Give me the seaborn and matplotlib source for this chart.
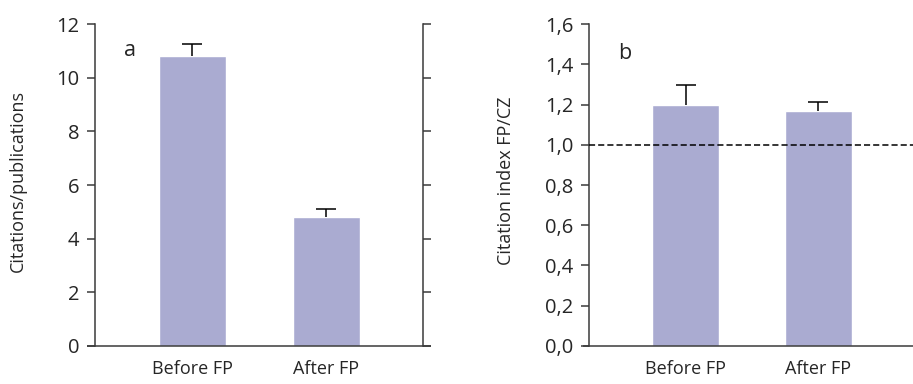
import matplotlib
matplotlib.use("Agg")
import matplotlib.pyplot as plt
import seaborn as sns
from matplotlib.ticker import FuncFormatter

# Data
categories = ["Before FP", "After FP"]
cites_per_pub = [10.8, 4.8]
cites_per_pub_err = [0.45, 0.3]
citation_index = [1.2, 1.17]
citation_index_err = [0.1, 0.045]
left_yticks = [0, 2, 4, 6, 8, 10, 12]
right_yticks = [0.0, 0.2, 0.4, 0.6, 0.8, 1.0, 1.2, 1.4, 1.6]
reference_level = 1.0

BAR_COLOR = "#aaabd1"
SPINE_COLOR = "#3a3a3a"
LW = 1.1
FONT = 13
YTICK_FONT = 14.5
PANEL_FONT = 15.5

sns.set_style("ticks")
plt.rcParams["font.family"] = ["Open Sans", "DejaVu Sans"]
plt.rcParams["font.size"] = FONT

fig = plt.figure(figsize=(9.13, 3.84), dpi=100)
ax1 = fig.add_axes([0.1041, 0.0997, 0.3593, 0.837])
ax2 = fig.add_axes([0.6455, 0.0997, 0.3562, 0.837])


def style_axis(ax, yticks, ylim, fmt=None):
    ax.set_ylim(*ylim)
    ax.set_yticks(yticks)
    if fmt is not None:
        ax.yaxis.set_major_formatter(FuncFormatter(fmt))
    ax.set_xlim(-0.724, 1.724)
    ax.spines["top"].set_visible(False)
    ax.spines["bottom"].set_visible(False)
    for s in ("left", "right"):
        ax.spines[s].set_color(SPINE_COLOR)
        ax.spines[s].set_linewidth(LW)
    ax.tick_params(axis="y", direction="out", length=5.8, width=LW,
                   color=SPINE_COLOR, labelsize=YTICK_FONT, pad=5.5)
    ax.tick_params(axis="x", length=0, labelsize=FONT, pad=10)
    ax.set_xlabel("")


def baseline(ax, x0, x1):
    ax.plot([x0, x1], [0, 0], transform=ax.transAxes, color=SPINE_COLOR,
            lw=LW, clip_on=False, zorder=5, solid_capstyle="butt")


def errorbars(ax, vals, errs):
    _, caps, _ = ax.errorbar(range(len(vals)), vals, yerr=[[0] * len(vals), errs],
                             fmt="none", ecolor="black", elinewidth=LW,
                             capsize=7, capthick=LW, zorder=4)
    caps[0].set_visible(False)


# Panel a
sns.barplot(x=categories, y=cites_per_pub, color=BAR_COLOR, width=0.5,
            saturation=1, ax=ax1, zorder=2)
errorbars(ax1, cites_per_pub, cites_per_pub_err)
style_axis(ax1, left_yticks, (0, 12))
ax1.spines["right"].set_visible(True)
ax1.tick_params(axis="y", right=True, labelright=False)
baseline(ax1, -0.025, 1.025)
ax1.set_ylabel("Citations/publications", fontsize=FONT)
ax1.yaxis.set_label_coords(-0.207, 0.512)
ax1.text(0.088, 0.901, "a", transform=ax1.transAxes, fontsize=PANEL_FONT,
         va="baseline", ha="left")

# Panel b
sns.barplot(x=categories, y=citation_index, color=BAR_COLOR, width=0.5,
            saturation=1, ax=ax2, zorder=2)
errorbars(ax2, citation_index, citation_index_err)
style_axis(ax2, right_yticks, (0, 1.6),
           fmt=lambda v, p: f"{v:.1f}".replace(".", ","))
ax2.spines["right"].set_visible(False)
baseline(ax2, -0.02, 1.0)
ax2.axhline(reference_level, color="black", lw=LW, ls=(0, (4, 2)), zorder=3)
ax2.set_ylabel("Citation index FP/CZ", fontsize=FONT)
ax2.yaxis.set_label_coords(-0.228, 0.512)
ax2.text(0.087, 0.892, "b", transform=ax2.transAxes, fontsize=PANEL_FONT,
         va="baseline", ha="left")

fig.savefig("out.png", dpi=100)
